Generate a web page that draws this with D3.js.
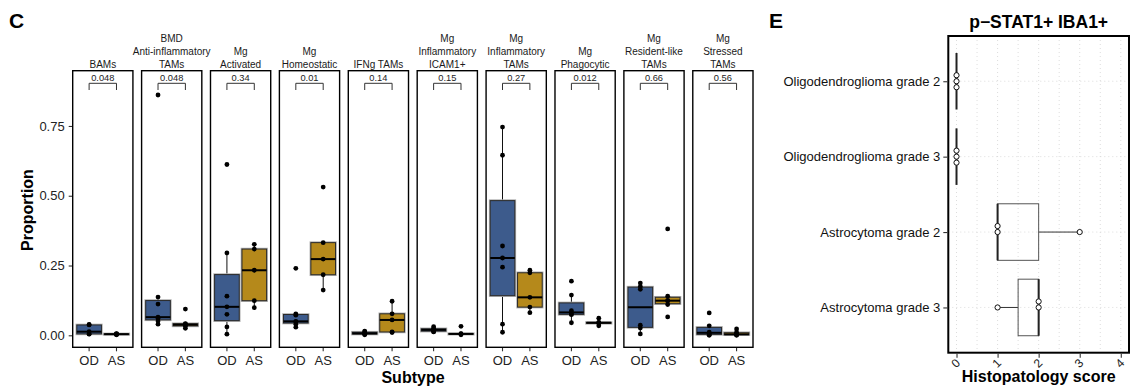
<!DOCTYPE html>
<html><head><meta charset="utf-8">
<script src="https://cdn.jsdelivr.net/npm/d3@7"></script>
<style>
html,body{margin:0;padding:0;background:#fff;}
svg{display:block;font-family:"Liberation Sans",Arial,Helvetica,sans-serif;}
</style></head>
<body>
<svg id="chart" width="1132" height="387"></svg>
<script>
// ---------- Panel C data ----------
const facetLabels = [
  ["BAMs"],
  ["BMD","Anti-inflammatory","TAMs"],
  ["Mg","Activated"],
  ["Mg","Homeostatic"],
  ["IFNg TAMs"],
  ["Mg","Inflammatory","ICAM1+"],
  ["Mg","Inflammatory","TAMs"],
  ["Mg","Phagocytic"],
  ["Mg","Resident-like","TAMs"],
  ["Mg","Stressed","TAMs"]
];
const pValues = ["0.048","0.048","0.34","0.01","0.14","0.15","0.27","0.012","0.66","0.56"];
const subtypes = ["OD","AS"];
const odValues = [
  [0.004,0.005,0.013,0.037,0.039],
  [0.040,0.051,0.060,0.065,0.112,0.137,0.861],
  [0.004,0.030,0.075,0.102,0.140,0.295,0.612],
  [0.029,0.040,0.048,0.050,0.072,0.077,0.240],
  [0.002,0.004,0.006,0.008,0.012,0.015],
  [0.012,0.014,0.018,0.021,0.024,0.031],
  [0.011,0.040,0.244,0.277,0.320,0.645,0.746],
  [0.045,0.074,0.076,0.082,0.088,0.144,0.194],
  [0.005,0.026,0.036,0.165,0.175,0.187],
  [0.000,0.002,0.007,0.011,0.034,0.080]
];
const asValues = [
  [0.002,0.003,0.004,0.005,0.006],
  [0.025,0.033,0.036,0.040,0.042,0.094],
  [0.099,0.124,0.233,0.309,0.326],
  [0.162,0.217,0.273,0.332,0.531],
  [0.010,0.012,0.055,0.077,0.122],
  [0.002,0.004,0.005,0.006,0.032],
  [0.081,0.101,0.136,0.224,0.233],
  [0.034,0.043,0.045,0.046,0.061],
  [0.066,0.110,0.123,0.125,0.140,0.381],
  [0.000,0.002,0.003,0.004,0.011,0.023]
];
const proportionTicks = [0, 0.25, 0.5, 0.75];
const subtypeColors = ["#3D5B8C","#B5891B"];

// ---------- Panel E data ----------
const gradeLabels = ["Oligodendroglioma grade 2","Oligodendroglioma grade 3","Astrocytoma grade 2","Astrocytoma grade 3"];
const gradeScores = [[0,0,0],[0,0,0],[1,1,3],[1,2,2]];
const scoreTicks = [0,1,2,3,4];
const scoreGrid = [0,0.5,1,1.5,2,2.5,3,3.5,4];

const svg = d3.select("#chart");

function boxStats(vals){
  const s = vals.slice().sort(d3.ascending);
  const q1 = d3.quantile(s,0.25), med = d3.quantile(s,0.5), q3 = d3.quantile(s,0.75);
  const iqr = q3-q1;
  const lo = d3.min(s.filter(v=>v>=q1-1.5*iqr));
  const hi = d3.max(s.filter(v=>v<=q3+1.5*iqr));
  return {q1,med,q3,lo,hi};
}

// ---------- Panel C ----------
const cTop = 70.7, cBottom = 347.3;
const facetX = d3.scaleBand().domain(d3.range(facetLabels.length)).range([72.7,753]).paddingInner(0.126).paddingOuter(0);
const y = d3.scaleLinear().domain([-0.043,0.948]).range([cBottom,cTop]);
const bw = facetX.bandwidth();
const inner = d3.scaleLinear().domain([0.4,2.6]).range([0,bw]);
const boxW = inner(1.45)-inner(0.55);

svg.append("text").attr("x",9).attr("y",28).attr("font-size",21).attr("font-weight","bold").text("C");

// y axis
const yAxis = svg.append("g").attr("transform",`translate(${facetX(0)},0)`)
  .call(d3.axisLeft(y).tickValues(proportionTicks).tickFormat(d3.format(".2f")).tickSizeOuter(0).tickSize(4));
yAxis.select(".domain").remove();
yAxis.selectAll("line").attr("stroke","#333").attr("stroke-width",1.1);
yAxis.selectAll("text").attr("font-size",13).attr("fill","#222").attr("font-family","Liberation Sans, Arial, sans-serif").attr("dx",-1);

svg.append("text").attr("transform","translate(33,210) rotate(-90)").attr("text-anchor","middle")
  .attr("font-size",16).attr("font-weight","bold").text("Proportion");
svg.append("text").attr("x",413).attr("y",383).attr("text-anchor","middle")
  .attr("font-size",16).attr("font-weight","bold").text("Subtype");

facetLabels.forEach((lab,i)=>{
  const g = svg.append("g").attr("transform",`translate(${facetX(i)},0)`);
  // strip text
  lab.forEach((line,j)=>{
    g.append("text").attr("x",bw/2).attr("y",68 - (lab.length-1-j)*12.8)
      .attr("text-anchor","middle").attr("font-size",10).attr("fill","#1a1a1a").text(line);
  });
  // x axis ticks
  const xa = g.append("g").attr("transform",`translate(0,${cBottom})`);
  subtypes.forEach((s,k)=>{
    const cx = inner(k+1);
    xa.append("line").attr("x1",cx).attr("x2",cx).attr("y1",0).attr("y2",4).attr("stroke","#333").attr("stroke-width",1.1);
    xa.append("text").attr("x",cx).attr("y",18).attr("text-anchor","middle").attr("font-size",13).attr("fill","#222").text(s);
  });
  // boxes
  [odValues[i],asValues[i]].forEach((vals,k)=>{
    const st = boxStats(vals);
    const cx = inner(k+1);
    g.append("line").attr("x1",cx).attr("x2",cx).attr("y1",y(st.hi)).attr("y2",y(st.q3)).attr("stroke","#111").attr("stroke-width",1);
    g.append("line").attr("x1",cx).attr("x2",cx).attr("y1",y(st.q1)).attr("y2",y(st.lo)).attr("stroke","#111").attr("stroke-width",1);
    const h = Math.max(y(st.q1)-y(st.q3),0);
    g.append("rect").attr("x",cx-boxW/2).attr("y",y(st.q3)).attr("width",boxW).attr("height",h)
      .attr("fill",subtypeColors[k]).attr("stroke","#b0b0b0").attr("stroke-width",2.6);
    g.append("rect").attr("x",cx-boxW/2).attr("y",y(st.q3)).attr("width",boxW).attr("height",h)
      .attr("fill",subtypeColors[k]).attr("stroke","#2a2a2a").attr("stroke-width",1);
    g.append("line").attr("x1",cx-boxW/2).attr("x2",cx+boxW/2).attr("y1",y(st.med)).attr("y2",y(st.med))
      .attr("stroke","#000").attr("stroke-width",2);
    vals.forEach(v=>{
      g.append("circle").attr("cx",cx).attr("cy",y(v)).attr("r",2.4).attr("fill","#000");
    });
  });
  // panel border
  g.append("rect").attr("x",0).attr("y",cTop).attr("width",bw).attr("height",cBottom-cTop)
    .attr("fill","none").attr("stroke","#000").attr("stroke-width",1.4);
  // significance bracket
  const x1 = inner(1), x2 = inner(2);
  g.append("path").attr("d",`M${x1},90V83.3H${x2}V90`).attr("fill","none").attr("stroke","#333").attr("stroke-width",1);
  g.append("text").attr("x",(x1+x2)/2).attr("y",80.5).attr("text-anchor","middle").attr("font-size",9.3).attr("fill","#222").text(pValues[i]);
});

// ---------- Panel E ----------
const eL = 948.3, eR = 1129, eT = 36, eB = 352.7;
svg.append("text").attr("x",769).attr("y",28).attr("font-size",21).attr("font-weight","bold").text("E");
svg.append("text").attr("x",(eL+eR)/2).attr("y",28).attr("text-anchor","middle").attr("font-size",17.5).attr("font-weight","bold").text("p\u2212STAT1+ IBA1+");

const xs = d3.scaleLinear().domain([-0.2,4.2]).range([eL,eR]);
const ys = d3.scalePoint().domain(gradeLabels).range([eT,eB]).padding(0.6);
const bandH = ys.step()*0.75;

// grid
svg.append("g").selectAll("line").data(scoreGrid).join("line")
  .attr("x1",d=>xs(d)).attr("x2",d=>xs(d)).attr("y1",eT).attr("y2",eB)
  .attr("stroke","#d4d4d4").attr("stroke-width",0.8).attr("stroke-dasharray","1,3");
svg.append("g").selectAll("line").data(gradeLabels).join("line")
  .attr("x1",eL).attr("x2",eR).attr("y1",d=>ys(d)).attr("y2",d=>ys(d))
  .attr("stroke","#d4d4d4").attr("stroke-width",0.8).attr("stroke-dasharray","1,3");

gradeLabels.forEach((lab,i)=>{
  const st = boxStats(gradeScores[i]);
  const cy = ys(lab);
  const g = svg.append("g");
  g.append("line").attr("x1",xs(st.lo)).attr("x2",xs(st.q1)).attr("y1",cy).attr("y2",cy).attr("stroke","#333").attr("stroke-width",1);
  g.append("line").attr("x1",xs(st.q3)).attr("x2",xs(st.hi)).attr("y1",cy).attr("y2",cy).attr("stroke","#333").attr("stroke-width",1);
  g.append("rect").attr("x",xs(st.q1)).attr("y",cy-bandH/2).attr("width",xs(st.q3)-xs(st.q1)).attr("height",bandH)
    .attr("fill","none").attr("stroke","#555").attr("stroke-width",1);
  g.append("line").attr("x1",xs(st.med)).attr("x2",xs(st.med)).attr("y1",cy-bandH/2).attr("y2",cy+bandH/2)
    .attr("stroke","#222").attr("stroke-width",2);
  // stacked points
  const counts = d3.rollup(gradeScores[i], v=>v.length, d=>d);
  counts.forEach((n,val)=>{
    d3.range(n).forEach(j=>{
      g.append("circle").attr("cx",xs(val)).attr("cy",cy+(j-Math.floor(n/2))*6).attr("r",2.6)
        .attr("fill","#fff").attr("stroke","#111").attr("stroke-width",1);
    });
  });
});

svg.append("rect").attr("x",eL).attr("y",eT).attr("width",eR-eL).attr("height",eB-eT)
  .attr("fill","none").attr("stroke","#000").attr("stroke-width",2);

// E y axis
const eyA = svg.append("g").attr("transform",`translate(${eL-1},0)`).call(d3.axisLeft(ys).tickSize(4).tickSizeOuter(0));
eyA.select(".domain").remove();
eyA.selectAll("line").attr("stroke","#333").attr("stroke-width",1.1);
eyA.selectAll("text").attr("font-size",13).attr("fill","#111").attr("font-family","Liberation Sans, Arial, sans-serif");

// E x axis
const exA = svg.append("g").attr("transform",`translate(0,${eB+1})`).call(d3.axisBottom(xs).tickValues(scoreTicks).tickFormat(d3.format("d")).tickSize(4).tickSizeOuter(0));
exA.select(".domain").remove();
exA.selectAll("line").attr("stroke","#333").attr("stroke-width",1.1);
exA.selectAll("text").attr("font-size",12).attr("fill","#222").attr("font-family","Liberation Sans, Arial, sans-serif")
  .attr("text-anchor","end").attr("dy",null).attr("y",0)
  .attr("transform","translate(4,10) rotate(-45)");

svg.append("text").attr("x",(eL+eR)/2).attr("y",382).attr("text-anchor","middle").attr("font-size",16).attr("font-weight","bold").text("Histopatology score");
</script>
</body></html>
